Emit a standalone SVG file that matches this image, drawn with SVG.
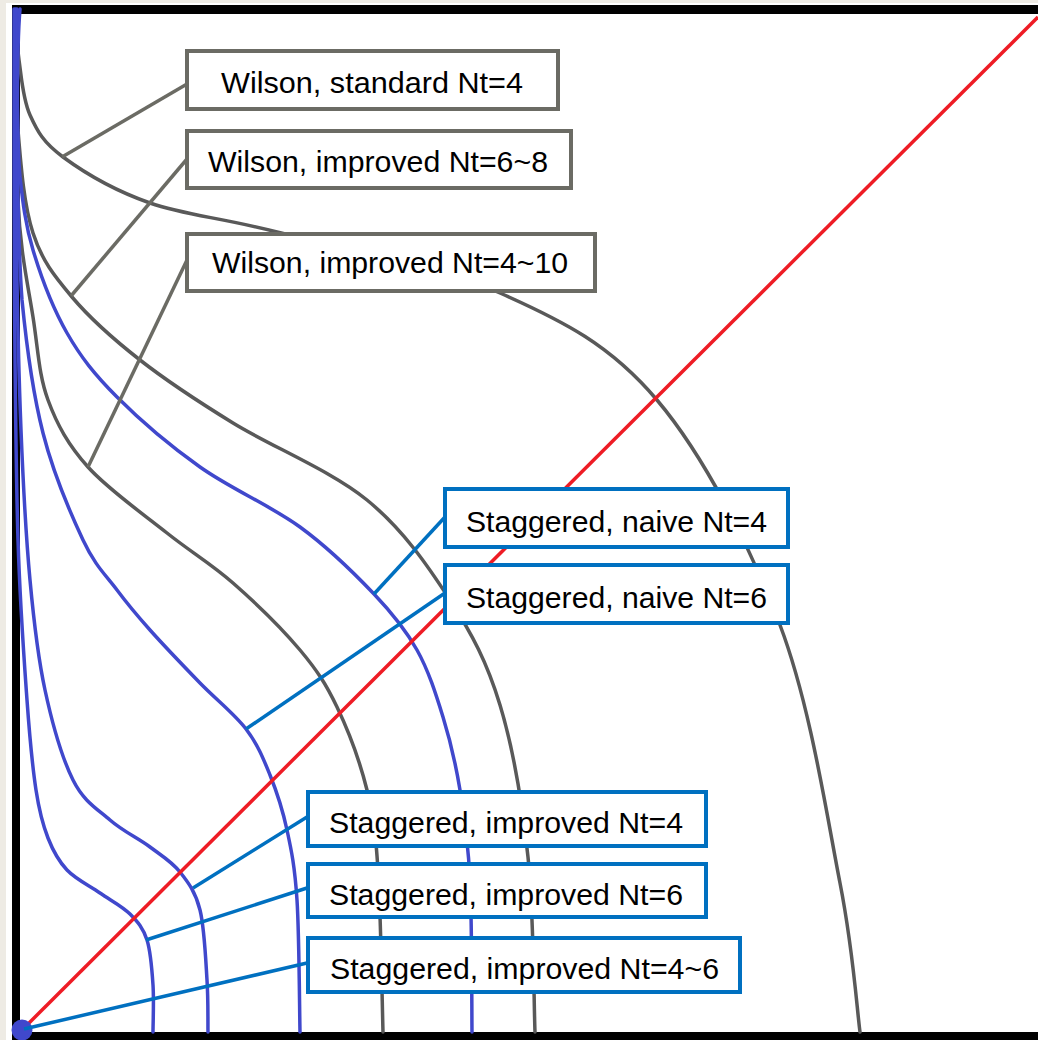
<svg xmlns="http://www.w3.org/2000/svg" width="1038" height="1040" viewBox="0 0 1038 1040">
<style>
.wc{fill:none;stroke:#595959;stroke-width:3.5;stroke-linecap:round}
.sc{fill:none;stroke:#4048cc;stroke-width:3.5;stroke-linecap:round}
.diag{stroke:#ee1c25;stroke-width:3.5}
.lw{stroke:#6b6b64;stroke-width:3.5}
.ls{stroke:#0070c0;stroke-width:3.5}
.bw{fill:#fff;stroke:#6b6b64;stroke-width:4}
.bs{fill:#fff;stroke:#0070c0;stroke-width:4}
text{font-family:"Liberation Sans",Arial,sans-serif;font-size:29px;fill:#000}
</style>
<rect x="0" y="0" width="1038" height="1040" fill="#eeebe4"/>
<rect x="6" y="3" width="1032" height="1037" fill="#fff"/>
<g id="frame" stroke="#000">
<line x1="16" y1="5" x2="16" y2="1040" stroke-width="8"/>
<line x1="12" y1="9.5" x2="1038" y2="9.5" stroke-width="9"/>
<line x1="12" y1="1036" x2="1038" y2="1036" stroke-width="8"/>
</g>
<g id="curves">
<path id="wilson-std-4" class="wc" d="M16,10 C16.7,20 16.5,42.8 19,60 C21.5,77.2 22.7,98.8 30,115 C37.3,131.2 43,142.3 63,157 C83,171.7 114.3,190.5 150,203 C185.7,215.5 218.7,217 277,232 C335.3,247 436.7,265 500,293 C563.3,321 610.3,344.7 657,400 C703.7,455.3 749.5,544.5 780,625 C810.5,705.5 826.7,815.2 840,883 C853.3,950.8 856.7,1007.2 860,1032"/>
<path id="wilson-imp-6-8" class="wc" d="M17,10 C17.5,31.7 16,93.2 18,130 C21,166.8 24,205.2 33,233 C42,260.8 54.2,275.8 72,297 C89.8,318.2 113.2,339 140,360 C166.8,381 195.2,399.7 233,423 C270.8,446.3 330.8,470.5 367,500 C403.2,529.5 427.8,565.8 450,600 C472.2,634.2 487,662.2 500,705 C513,747.8 522.2,802.5 528,857 C533.8,911.5 533.8,1002.8 535,1032"/>
<path id="wilson-imp-4-10" class="wc" d="M17,10 C17.3,43.3 17,149.2 18,200 C20,250.8 27.8,283.7 33,317 C38.2,350.3 38.8,375 48,400 C57.2,425 68.2,444.8 88,467 C107.8,489.2 142.8,513.7 167,533 C191.2,552.3 210.8,563.5 233,583 C255.2,602.5 282.7,629.3 300,650 C317.3,670.7 325.8,683.7 337,707 C348.2,730.3 360.2,762.8 367,790 C373.8,817.2 375.3,829.7 378,870 C380.7,910.3 382.2,1005 383,1032"/>
<path id="stag-naive-4" class="sc" d="M20,9 C18.5,26.7 17.5,72.5 17.5,100 C17.8,127.5 17.8,152 20,177 C22.8,202 25.2,224 33,250 C40.8,276 53,308.5 67,333 C81,357.5 94.8,374.7 117,397 C139.2,419.3 169.5,445.3 200,467 C230.5,488.7 271,505.8 300,527 C329,548.2 354.5,573.5 374,594 C393.5,614.5 405.5,629.5 417,650 C428.5,670.5 435.8,693.7 443,717 C450.2,740.3 455.5,762.8 460,790 C464.5,817.2 468,839.7 470,880 C472,920.3 471.7,1006.7 472,1032"/>
<path id="stag-naive-6" class="sc" d="M17,9 C17,38.3 17,122 17.5,170 C18.2,218 18.8,256 22,300 C26.3,343.8 32.8,393 43,433 C53.2,473 70.7,513.8 83,540 C95.3,566.2 105.8,575 117,590 C128.2,605 136.2,614.5 150,630 C163.8,645.5 184,666.5 200,683 C216,699.5 234.3,713.7 246,729 C257.7,744.3 263.2,758.2 270,775 C276.8,791.8 282.5,809.2 287,830 C291.5,850.8 294.8,866.3 297,900 C299.2,933.7 299.5,1010 300,1032"/>
<path id="stag-imp-4" class="sc" d="M15.5,9 C15.5,51.7 16,180.3 16.5,250 C17.5,319.7 18.8,375 21,430 C23.2,485 26,536.7 30,580 C34,623.3 37.8,656.7 45,690 C52.2,723.3 62.2,758.3 73,780 C83.8,801.7 97.2,808.8 110,820 C122.8,831.2 138.3,838.3 150,847 C161.7,855.7 171.7,861.5 180,872 C188.3,882.5 195.5,892 200,910 C204.5,928 205.7,959.7 207,980 C208.3,999.3 207.8,1023.3 208,1032"/>
<path id="stag-imp-6" class="sc" d="M14,9 C14.1,57.5 13.8,211.5 14.5,300 C15.2,388.5 15.9,473.3 18,540 C20.1,606.7 24,658.3 27,700 C30,741.7 32.5,767 36,790 C39.5,813 42.8,824.7 48,838 C53.2,851.3 58.3,860.8 67,870 C75.7,879.2 89.5,885.7 100,893 C110.5,900.3 122.2,906.2 130,914 C137.8,921.8 143.2,928.2 147,940 C150.8,951.8 152,969.7 153,985 C154,1000.3 153,1024.2 153,1032"/>
<line id="diagonal" class="diag" x1="22" y1="1030" x2="1038" y2="17"/>
<circle id="origin" cx="22" cy="1030" r="10.5" fill="#4048cc"/>
</g>
<g id="connectors">
<line class="lw" x1="187" y1="84" x2="62" y2="157"/>
<line class="lw" x1="187" y1="159" x2="71" y2="296"/>
<line class="lw" x1="187" y1="260" x2="88" y2="467"/>
<line class="ls" x1="445" y1="517" x2="374" y2="594"/>
<line class="ls" x1="445" y1="593" x2="246" y2="729"/>
<line class="ls" x1="307" y1="817" x2="193" y2="888"/>
<line class="ls" x1="307" y1="888" x2="146" y2="940"/>
<line class="ls" x1="307" y1="963" x2="24" y2="1029"/>
</g>
<g id="label-wilson-standard-4">
<rect class="bw" x="187" y="51" width="371" height="58"/>
<text x="221" y="93" textLength="302" lengthAdjust="spacingAndGlyphs">Wilson, standard Nt=4</text>
</g>
<g id="label-wilson-improved-6-8">
<rect class="bw" x="187" y="131" width="384" height="57"/>
<text x="208" y="172" textLength="340" lengthAdjust="spacingAndGlyphs">Wilson, improved Nt=6~8</text>
</g>
<g id="label-wilson-improved-4-10">
<rect class="bw" x="187" y="234" width="408" height="57"/>
<text x="212" y="273" textLength="356" lengthAdjust="spacingAndGlyphs">Wilson, improved Nt=4~10</text>
</g>
<g id="label-staggered-naive-4">
<rect class="bs" x="445" y="489" width="343" height="58"/>
<text x="466" y="532" textLength="301" lengthAdjust="spacingAndGlyphs">Staggered, naive Nt=4</text>
</g>
<g id="label-staggered-naive-6">
<rect class="bs" x="445" y="565" width="343" height="58"/>
<text x="466" y="608" textLength="301" lengthAdjust="spacingAndGlyphs">Staggered, naive Nt=6</text>
</g>
<g id="label-staggered-improved-4">
<rect class="bs" x="308" y="792" width="398" height="54"/>
<text x="329" y="833" textLength="354" lengthAdjust="spacingAndGlyphs">Staggered, improved Nt=4</text>
</g>
<g id="label-staggered-improved-6">
<rect class="bs" x="308" y="864" width="398" height="53"/>
<text x="329" y="905" textLength="354" lengthAdjust="spacingAndGlyphs">Staggered, improved Nt=6</text>
</g>
<g id="label-staggered-improved-4-6">
<rect class="bs" x="308" y="938" width="432" height="54"/>
<text x="330" y="979" textLength="389" lengthAdjust="spacingAndGlyphs">Staggered, improved Nt=4~6</text>
</g>
</svg>
